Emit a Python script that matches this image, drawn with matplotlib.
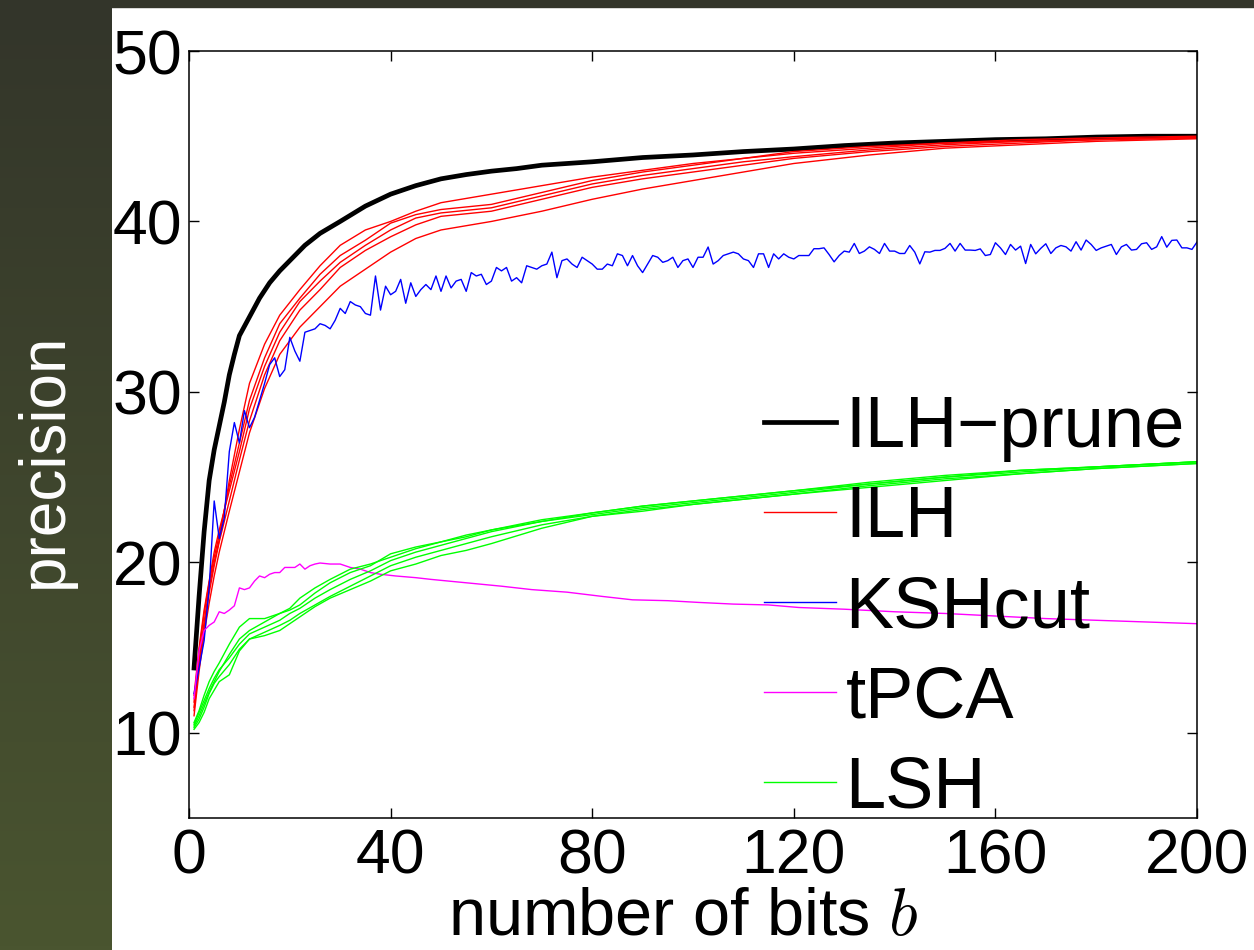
import numpy as np
import matplotlib.pyplot as plt
from matplotlib.patches import Rectangle

plt.rcParams['font.family'] = ['Liberation Sans', 'DejaVu Sans']
plt.rcParams['mathtext.fontset'] = 'cm'

# ILH-prune (black, thick)
prune_bits = [1, 2, 3, 4, 5, 6, 7, 8, 9, 10, 12, 14, 16, 18, 20, 23, 26, 30, 35, 40,
              45, 50, 55, 60, 65, 70, 80, 90, 100, 110, 120, 130, 140, 150, 160, 170,
              180, 190, 200]
ilh_prune = [13.8, 18.0, 21.8, 24.8, 26.6, 28.0, 29.4, 31.0, 32.2, 33.3, 34.4, 35.5,
             36.4, 37.1, 37.7, 38.6, 39.3, 40.0, 40.9, 41.6, 42.1, 42.5, 42.75, 42.95,
             43.1, 43.3, 43.5, 43.75, 43.9, 44.1, 44.25, 44.45, 44.6, 44.7, 44.8,
             44.85, 44.95, 45.0, 45.0]

# ILH (red, five runs)
ilh_bits = [1, 2, 3, 4, 5, 6, 8, 10, 12, 15, 18, 22, 26, 30, 35, 40, 45, 50, 60, 70,
            80, 90, 100, 110, 120, 135, 150, 165, 180, 200]
ilh_1 = [11.5, 14.2, 16.5, 18.5, 20.0, 21.3, 24.8, 27.8, 30.5, 32.8, 34.5, 36.0, 37.4,
         38.6, 39.5, 40.0, 40.6, 41.1, 41.6, 42.1, 42.6, 43.0, 43.4, 43.7, 44.0, 44.3,
         44.6, 44.7, 44.8, 44.95]
ilh_2 = [11.8, 14.8, 17.0, 18.8, 20.3, 21.6, 24.5, 27.0, 29.5, 32.0, 34.0, 35.5, 36.9,
         38.0, 38.9, 39.9, 40.4, 40.7, 41.0, 41.7, 42.4, 42.9, 43.3, 43.7, 44.1, 44.4,
         44.6, 44.8, 44.9, 45.0]
ilh_3 = [12.2, 15.0, 17.2, 18.9, 20.6, 21.9, 24.2, 26.5, 29.0, 31.5, 33.5, 35.3, 36.5,
         37.6, 38.6, 39.5, 40.2, 40.5, 40.8, 41.5, 42.2, 42.7, 43.1, 43.5, 43.8, 44.2,
         44.5, 44.7, 44.8, 44.9]
ilh_4 = [11.3, 14.0, 16.2, 18.2, 19.8, 21.2, 23.6, 26.0, 28.3, 31.0, 33.0, 34.8, 36.0,
         37.3, 38.3, 39.1, 39.8, 40.3, 40.6, 41.3, 42.0, 42.5, 42.9, 43.3, 43.7, 44.1,
         44.4, 44.6, 44.8, 44.9]
ilh_5 = [11.0, 13.6, 15.8, 17.6, 19.2, 20.6, 23.0, 25.3, 27.6, 30.2, 32.2, 33.8, 35.0,
         36.2, 37.2, 38.2, 39.0, 39.5, 40.0, 40.6, 41.3, 41.9, 42.4, 42.9, 43.4, 43.9,
         44.3, 44.5, 44.7, 44.85]

# KSHcut (blue), one value per bit, b = 1..200
kshcut = [12.3, 13.8, 15.4, 18.5, 23.6, 21.4, 22.6, 26.5, 28.2, 27.0,
          28.9, 27.9, 28.5, 29.5, 30.5, 31.6, 32.0, 30.9, 31.3, 33.2,
          32.4, 31.8, 33.5, 33.6, 33.7, 34.0, 33.9, 33.7, 34.2, 34.9,
          34.6, 35.3, 35.1, 35.0, 34.6, 34.5, 36.8, 34.8, 36.2, 35.7,
          35.9, 36.6, 35.2, 36.4, 35.6, 36.0, 36.3, 36.0, 36.8, 35.9,
          36.8, 36.1, 36.5, 36.6, 35.9, 37.0, 36.8, 36.9, 36.3, 36.5,
          37.3, 37.1, 37.3, 36.5, 36.7, 36.4, 37.4, 37.3, 37.2, 37.4,
          37.5, 38.2, 36.7, 37.7, 37.8, 37.5, 37.3, 37.9, 37.7, 37.5,
          37.2, 37.2, 37.5, 37.4, 38.1, 38.0, 37.4, 38.0, 37.4, 37.0,
          37.5, 38.0, 37.9, 37.6, 37.7, 37.9, 37.3, 37.7, 37.8, 37.3,
          37.9, 37.9, 38.5, 37.5, 37.7, 38.0, 38.1, 38.2, 38.1, 37.8,
          37.7, 37.3, 38.1, 38.1, 37.3, 38.1, 37.8, 38.1, 37.9, 37.8,
          38.0, 38.0, 38.0, 38.4, 38.4, 38.45, 38.06, 37.63, 38.0, 38.26,
          38.2, 38.71, 38.12, 38.26, 38.51, 38.36, 38.12, 38.71, 38.26, 38.26,
          38.12, 38.12, 38.59, 38.2, 37.51, 38.22, 38.2, 38.3, 38.3, 38.42,
          38.71, 38.26, 38.71, 38.32, 38.32, 38.3, 38.39, 38.0, 38.06, 38.75,
          38.45, 38.06, 38.65, 38.32, 38.55, 37.53, 38.65, 38.1, 38.42, 38.69,
          38.12, 38.45, 38.59, 38.51, 38.26, 38.81, 38.32, 38.91, 38.65, 38.3,
          38.45, 38.55, 38.65, 38.06, 38.51, 38.65, 38.32, 38.36, 38.69, 38.75,
          38.36, 38.51, 39.11, 38.49, 38.89, 38.91, 38.45, 38.45, 38.36, 38.79]
ksh_bits = list(range(1, len(kshcut) + 1))

# tPCA (magenta)
tpca_bits = [1, 2, 3, 4, 5, 6, 7, 8, 9, 10, 11, 12, 13, 14, 15, 16, 17, 18, 19, 20,
             21, 22, 23, 24, 25, 26, 28, 30, 32, 34, 36, 38, 41, 45, 48, 55, 62, 68,
             75, 82, 88, 95, 101, 108, 115, 121, 130, 140, 150, 160, 170, 180, 190, 200]
tpca = [12.0, 14.8, 16.0, 16.3, 16.5, 17.1, 17.0, 17.2, 17.45, 18.5, 18.4, 18.5, 18.9,
        19.2, 19.1, 19.3, 19.4, 19.4, 19.7, 19.7, 19.7, 19.9, 19.6, 19.8, 19.9, 19.96,
        19.9, 19.9, 19.7, 19.6, 19.4, 19.3, 19.2, 19.1, 19.0, 18.8, 18.6, 18.4, 18.25,
        18.0, 17.8, 17.75, 17.65, 17.55, 17.5, 17.35, 17.25, 17.1, 17.0, 16.85, 16.7,
        16.6, 16.5, 16.4]

# LSH (green, five runs)
lsh_bits = [1, 2, 3, 4, 5, 6, 8, 10, 12, 15, 18, 20, 22, 25, 28, 32, 36, 40, 45, 50,
            55, 60, 70, 80, 90, 100, 110, 120, 135, 150, 165, 180, 200]
lsh_1 = [10.6, 11.3, 12.2, 13.0, 13.6, 14.1, 15.2, 16.2, 16.7, 16.7, 17.0, 17.3, 17.9,
         18.5, 19.0, 19.6, 19.9, 20.3, 20.8, 21.2, 21.5, 21.9, 22.4, 22.9, 23.3, 23.6,
         23.9, 24.2, 24.6, 25.0, 25.4, 25.6, 25.9]
lsh_2 = [10.4, 11.0, 11.7, 12.4, 13.0, 13.6, 14.6, 15.5, 16.0, 16.5, 17.0, 17.2, 17.5,
         18.2, 18.8, 19.4, 19.8, 20.5, 20.9, 21.2, 21.6, 21.9, 22.5, 22.9, 23.3, 23.6,
         23.9, 24.2, 24.7, 25.1, 25.4, 25.6, 25.9]
lsh_3 = [10.5, 11.2, 11.9, 12.6, 13.2, 13.7, 14.4, 15.2, 15.8, 16.2, 16.6, 17.0, 17.3,
         17.9, 18.4, 19.0, 19.5, 20.1, 20.6, 21.0, 21.4, 21.8, 22.4, 22.8, 23.2, 23.5,
         23.8, 24.1, 24.6, 25.0, 25.3, 25.6, 25.9]
lsh_4 = [10.3, 10.8, 11.5, 12.3, 12.9, 13.3, 14.0, 14.9, 15.5, 15.9, 16.3, 16.6, 17.0,
         17.5, 18.0, 18.6, 19.2, 19.8, 20.3, 20.7, 21.1, 21.5, 22.2, 22.7, 23.1, 23.4,
         23.7, 24.0, 24.5, 24.9, 25.2, 25.5, 25.8]
lsh_5 = [10.2, 10.6, 11.2, 12.0, 12.5, 13.0, 13.4, 14.8, 15.5, 15.7, 16.0, 16.4, 16.8,
         17.4, 17.9, 18.4, 18.9, 19.5, 19.9, 20.4, 20.7, 21.1, 22.0, 22.7, 23.0, 23.4,
         23.7, 24.0, 24.4, 24.8, 25.2, 25.5, 25.8]

x_ticks = [0, 40, 80, 120, 160, 200]
y_ticks = [10, 20, 30, 40, 50]

W, H = 1254, 950
fig = plt.figure(figsize=(W / 100, H / 100), dpi=100)
fig.patch.set_facecolor('white')

# dark slide strip on the left, with a vertical gradient
strip = fig.add_axes([0, 0, 112 / W, 1])
top_c = np.array([0x33, 0x35, 0x2a]) / 255
bot_c = np.array([0x4a, 0x55, 0x30]) / 255
t = np.linspace(0, 1, 256)[:, None]
grad = (top_c * (1 - t) + bot_c * t)[:, None, :]
strip.imshow(grad, aspect='auto', extent=[0, 1, 0, 1])
strip.axis('off')
fig.add_artist(Rectangle((0, 1 - 7 / H), 1, 7 / H, transform=fig.transFigure,
                         color='#33352a', zorder=5))
fig.text(45 / W, 1 - 460 / H, 'precision', rotation=90, color='white',
         ha='center', va='center', fontsize=46)

ax = fig.add_axes([189 / W, 1 - 818 / H, (1197 - 189) / W, (818 - 51) / H])

ax.plot(prune_bits, ilh_prune, color='black', lw=3.4, label='ILH\u2212prune')
for i, run in enumerate([ilh_1, ilh_2, ilh_3, ilh_4, ilh_5]):
    ax.plot(ilh_bits, run, color='#ff0000', lw=1.0, label='ILH' if i == 0 else None)
ax.plot(ksh_bits, kshcut, color='#0000ff', lw=1.0, label='KSHcut')
ax.plot(tpca_bits, tpca, color='#ff00ff', lw=1.0, label='tPCA')
for i, run in enumerate([lsh_1, lsh_2, lsh_3, lsh_4, lsh_5]):
    ax.plot(lsh_bits, run, color='#00ff00', lw=1.0, label='LSH' if i == 0 else None)

ax.set_xlim(0, 200)
ax.set_ylim(5, 50)
ax.set_xticks(x_ticks)
ax.set_yticks(y_ticks)
ax.tick_params(direction='in', length=7, width=1, top=True, right=True,
               labelsize=45, colors='black')
ax.tick_params(axis='x', pad=7)
ax.tick_params(axis='y', pad=5)
for sp in ax.spines.values():
    sp.set_linewidth(1.1)

# x label sits just under the tick labels, as in the slide
fig.text(683 / W, 1 / H, 'number of bits $b$', fontsize=48,
         ha='center', va='bottom')

ax.legend(loc='center left', bbox_to_anchor=(764 / W, 1 - 609 / H),
          bbox_transform=fig.transFigure, frameon=False, fontsize=52,
          handlelength=0.99, handletextpad=0.14, labelspacing=0.32,
          borderpad=0, borderaxespad=0)

fig.savefig('out.png', dpi=100)
